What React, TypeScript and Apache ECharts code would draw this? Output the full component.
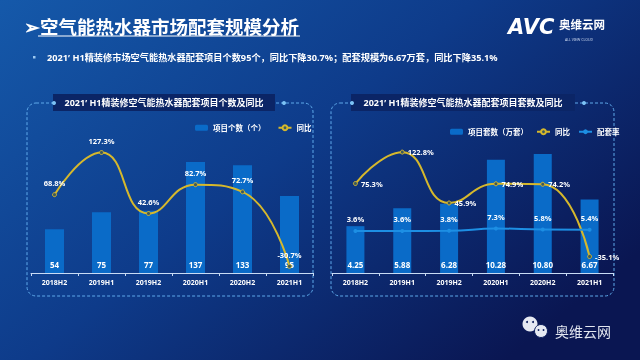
import React, { useEffect, useRef } from "react";
import * as echarts from "echarts";

const categories = ["2018H2", "2019H1", "2019H2", "2020H1", "2020H2", "2021H1"];
const projectCounts = [54, 75, 77, 137, 133, 95];
const projectCountYoY = [68.8, 127.3, 42.6, 82.7, 72.7, -30.7];
const unitVolumes = [4.25, 5.88, 6.28, 10.28, 10.8, 6.67];
const unitVolumeYoY = [75.3, 122.8, 45.9, 74.9, 74.2, -35.1];
const matchingRate = [3.6, 3.6, 3.8, 7.3, 5.8, 5.4];

const FONT = "'Noto Sans', 'Noto Sans CJK SC', sans-serif";
const BAR = "#0a6bc8";
const GOLD = "#d6b82c";
const SKY = "#1d8fe4";
const DASH = "#5ea9ea";

export default function App() {
  const ref = useRef<HTMLDivElement>(null);
  useEffect(() => {
    if (!ref.current) return;
    const chart = echarts.init(ref.current, undefined, { renderer: "svg" });

    const pctLabel = (pos: string, dist = 4) => ({
      show: true,
      position: pos,
      distance: dist,
      color: "#fff",
      fontSize: 7.5,
      fontWeight: "bold",
      fontFamily: FONT,
      formatter: (p: any) => p.value.toFixed(1) + "%",
    });

    const barLabel = (fmt: (v: number) => string) => ({
      show: true,
      position: "insideBottom",
      distance: 5,
      color: "#fff",
      fontSize: 8,
      fontWeight: "bold",
      fontFamily: FONT,
      formatter: (p: any) => fmt(p.value),
    });

    const xAxisBase = {
      type: "category",
      data: categories,
      axisLine: { lineStyle: { color: "#c9dcf5", width: 1 } },
      axisTick: { show: true, length: 3, lineStyle: { color: "#c9dcf5" } },
      axisLabel: { color: "#fff", fontSize: 7, fontWeight: "bold", fontFamily: FONT, margin: 6 },
    };
    const hiddenY = (min: number, max: number, gridIndex: number) => ({
      type: "value",
      gridIndex,
      min,
      max,
      show: false,
      splitLine: { show: false },
    });

    const panel = (x: number, w: number, boxX: number, boxW: number, title: string) => [
      {
        type: "rect",
        shape: { x, y: 103, width: w, height: 193, r: 9 },
        style: { fill: "none", stroke: DASH, lineWidth: 1, lineDash: [3, 2] },
        z: 0,
        silent: true,
      },
      {
        type: "rect",
        shape: { x: boxX, y: 94, width: boxW, height: 17 },
        style: { fill: "#0b2566" },
        z: 1,
        silent: true,
      },
      {
        type: "circle",
        shape: { cx: boxX + 1, cy: 103, r: 2 },
        style: { fill: "#7cc2f5" },
        z: 2,
      },
      {
        type: "circle",
        shape: { cx: boxX + boxW + 9, cy: 103, r: 2 },
        style: { fill: "#7cc2f5" },
        z: 2,
      },
      {
        type: "text",
        x: boxX + boxW / 2,
        y: 102.5,
        z: 3,
        style: {
          text: title,
          fill: "#fff",
          font: `bold 9px ${FONT}`,
          textAlign: "center",
          textVerticalAlign: "middle",
        },
      },
    ];

    const option: any = {
      animation: false,
      graphic: [
        {
          type: "rect",
          shape: { x: 0, y: 0, width: 640, height: 360 },
          style: {
            fill: new echarts.graphic.LinearGradient(0, 0, 1, 0.7, [
              { offset: 0, color: "#1559aa" },
              { offset: 0.5, color: "#0e3b8a" },
              { offset: 1, color: "#0a1652" },
            ]),
          },
          z: -10,
          silent: true,
        },
        {
          type: "text",
          x: 24,
          y: 26,
          style: {
            text: "➢空气能热水器市场配套规模分析",
            fill: "#fff",
            font: `bold 18.5px 'Noto Sans CJK SC', sans-serif`,
            textVerticalAlign: "middle",
          },
        },
        {
          type: "line",
          shape: { x1: 38, y1: 36, x2: 300, y2: 36 },
          style: { stroke: "#fff", lineWidth: 1.2 },
        },
        {
          type: "rect",
          shape: { x: 33, y: 56, width: 2.5, height: 2.5 },
          style: { fill: "#9cc8f0" },
        },
        {
          type: "text",
          x: 47,
          y: 57.5,
          style: {
            text: "2021’ H1精装修市场空气能热水器配套项目个数95个，同比下降30.7%；配套规模为6.67万套，同比下降35.1%",
            fill: "#fff",
            font: `bold 9.2px ${FONT}`,
            textVerticalAlign: "middle",
          },
        },
        {
          type: "text",
          x: 508,
          y: 27,
          style: {
            text: "AVC",
            fill: "#fff",
            font: `italic bold 21px 'DejaVu Sans', sans-serif`,
            textVerticalAlign: "middle",
          },
        },
        {
          type: "text",
          x: 559,
          y: 24,
          style: {
            text: "奥维云网",
            fill: "#fff",
            font: `bold 11.5px 'Noto Sans CJK SC', sans-serif`,
            textVerticalAlign: "middle",
          },
        },
        {
          type: "text",
          x: 565,
          y: 39,
          style: {
            text: "ALL VIEW CLOUD",
            fill: "#c9d6ee",
            font: `3.5px ${FONT}`,
            textVerticalAlign: "middle",
          },
        },
        ...panel(27, 286, 53, 222, "2021’ H1精装修空气能热水器配套项目个数及同比"),
        ...panel(331, 283, 351, 224, "2021’ H1精装修空气能热水器配套项目套数及同比"),
        {
          type: "circle",
          shape: { cx: 530, cy: 324, r: 7.5 },
          style: { fill: "#e6e9f2" },
        },
        {
          type: "circle",
          shape: { cx: 541, cy: 331, r: 6.5 },
          style: { fill: "#e6e9f2", stroke: "#0b1d5c", lineWidth: 1 },
        },
        { type: "circle", shape: { cx: 527, cy: 322, r: 1 }, style: { fill: "#0b1d5c" } },
        { type: "circle", shape: { cx: 533, cy: 322, r: 1 }, style: { fill: "#0b1d5c" } },
        { type: "circle", shape: { cx: 538.5, cy: 330, r: 0.9 }, style: { fill: "#0b1d5c" } },
        { type: "circle", shape: { cx: 543.5, cy: 330, r: 0.9 }, style: { fill: "#0b1d5c" } },
        {
          type: "text",
          x: 555,
          y: 331,
          style: {
            text: "奥维云网",
            fill: "#e2e6f0",
            font: `14px 'Noto Sans CJK SC', sans-serif`,
            textVerticalAlign: "middle",
          },
        },
      ],
      legend: [
        {
          left: 190,
          top: 119,
          itemWidth: 13,
          itemHeight: 6,
          itemGap: 12,
          textStyle: { color: "#fff", fontSize: 7.5, fontWeight: "bold", fontFamily: FONT },
          data: ["项目个数（个）", { name: "同比" }],
        },
        {
          left: 445,
          top: 123,
          itemWidth: 13,
          itemHeight: 6,
          itemGap: 8,
          textStyle: { color: "#fff", fontSize: 7.5, fontWeight: "bold", fontFamily: FONT },
          data: ["项目套数（万套）", "同比", "配套率"],
        },
      ],
      grid: [
        { left: 31, right: 327, top: 111, bottom: 87 },
        { left: 332, right: 27, top: 111, bottom: 87 },
      ],
      xAxis: [
        { ...xAxisBase, gridIndex: 0 },
        { ...xAxisBase, gridIndex: 1 },
      ],
      yAxis: [
        hiddenY(0, 200, 0),
        hiddenY(-40, 185, 0),
        hiddenY(0, 14.7, 1),
        hiddenY(-60, 185, 1),
      ],
      series: [
        {
          name: "项目个数（个）",
          type: "bar",
          xAxisIndex: 0,
          yAxisIndex: 0,
          data: projectCounts,
          barWidth: 19,
          itemStyle: { color: BAR },
          label: barLabel((v) => String(v)),
        },
        {
          name: "同比",
          type: "line",
          xAxisIndex: 0,
          yAxisIndex: 1,
          data: projectCountYoY,
          smooth: 0.5,
          symbol: "circle",
          symbolSize: 4,
          lineStyle: { color: GOLD, width: 2 },
          itemStyle: { color: "#3d5a5c", borderColor: GOLD, borderWidth: 1 },
          label: pctLabel("top", 5.5),
          z: 3,
        },
        {
          name: "项目套数（万套）",
          type: "bar",
          xAxisIndex: 1,
          yAxisIndex: 2,
          data: unitVolumes,
          barWidth: 18,
          itemStyle: { color: BAR },
          label: barLabel((v) => v.toFixed(2)),
        },
        {
          name: "同比",
          type: "line",
          xAxisIndex: 1,
          yAxisIndex: 3,
          data: unitVolumeYoY,
          smooth: 0.5,
          symbol: "circle",
          symbolSize: 4,
          lineStyle: { color: GOLD, width: 2 },
          itemStyle: { color: "#3d5a5c", borderColor: GOLD, borderWidth: 1 },
          label: pctLabel("right", 3),
          z: 3,
        },
        {
          name: "配套率",
          type: "line",
          xAxisIndex: 1,
          yAxisIndex: 3,
          data: matchingRate,
          smooth: 0.5,
          symbol: "circle",
          symbolSize: 4,
          lineStyle: { color: SKY, width: 2 },
          itemStyle: { color: SKY },
          label: pctLabel("top", 6),
          z: 3,
        },
      ],
    };
    chart.setOption(option);
    return () => chart.dispose();
  }, []);
  return (
    <div
      ref={ref}
      style={{ position: "fixed", left: 0, top: 0, width: 640, height: 360 }}
    />
  );
}
